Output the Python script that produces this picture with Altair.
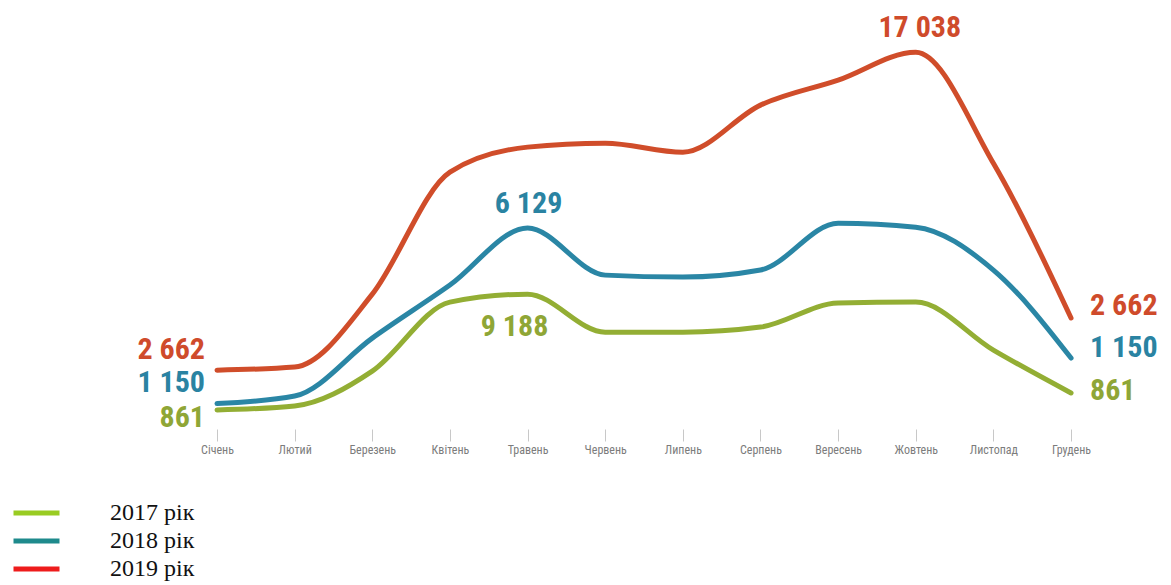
import altair as alt
import pandas as pd

months = ["Січень", "Лютий", "Березень", "Квітень", "Травень", "Червень",
          "Липень", "Серпень", "Вересень", "Жовтень", "Листопад", "Грудень"]
years = ["2017", "2018", "2019"]
v2017 = [861, 1040, 2620, 5740, 6100, 4380, 4380, 4610, 5700, 5740, 3570, 1630]
v2018 = [1150, 1490, 4110, 6510, 9090, 6960, 6870, 7190, 9310, 9130, 7190, 3210]
v2019 = [2662, 2800, 6100, 11620, 12750, 12930, 12520, 14650, 15780, 17038, 12020, 5020]

legend_labels = ["2017 рік", "2018 рік", "2019 рік"]

# annotation labels: (series, month index, text)
label_series = ["2019", "2018", "2017", "2019", "2018", "2017", "2018", "2017", "2019"]
label_month = [0, 0, 0, 11, 11, 11, 4, 4, 9]
label_text = ["2 662", "1 150", "861", "2 662", "1 150", "861", "6 129", "9 188", "17 038"]

line_colors = ["#93AE34", "#2A86A5", "#D04D2A"]
label_colors = {"2017": "#8FA636", "2018": "#2A83A2", "2019": "#CF4B2B"}
legend_colors = ["#99CC22", "#1E8A8C", "#EE1C1C"]

# styles for labels (dx, dy, align)
label_style = [(-12, -20, "right"), (-12, -21, "right"), (-12, 8, "right"),
               (19, -12, "left"), (19, -10, "left"), (19, -2, "left"),
               (1, -24, "center"), (-13, 33, "center"), (4, -24, "center")]

series = {"2017": v2017, "2018": v2018, "2019": v2019}
rows = []
for y in years:
    for i, m in enumerate(months):
        rows.append({"year": y, "idx": i, "month": m, "value": series[y][i]})
df = pd.DataFrame(rows)

cond_font = "Roboto Condensed, Liberation Sans Narrow, Open Sans Condensed, DejaVu Sans Condensed, Roboto, sans-serif"

x_enc = alt.X("idx:Q",
              scale=alt.Scale(domain=[-2.692, 12.12], nice=False, zero=False),
              axis=alt.Axis(values=list(range(12)), title=None, grid=False, domain=False,
                            tickSize=12, tickColor="#c8c8c8", tickWidth=1,
                            labelExpr="[" + ",".join("'" + m + "'" for m in months) + "][datum.value]",
                            labelFont=cond_font,
                            labelFontSize=12, labelFontWeight="normal", labelColor="#7c7c7c",
                            labelPadding=3))
y_enc = alt.Y("value:Q", scale=alt.Scale(domain=[0, 18500], nice=False), axis=None)

lines = alt.Chart(df).mark_line(strokeWidth=5, interpolate="monotone", strokeCap="round",
                                strokeJoin="round").encode(
    x=x_enc, y=y_enc,
    color=alt.Color("year:N", scale=alt.Scale(domain=years, range=line_colors), legend=None),
    detail="year:N",
)

label_layers = []
for k in range(len(label_text)):
    s = label_series[k]
    i = label_month[k]
    d = pd.DataFrame([{"idx": i, "value": series[s][i], "text": label_text[k]}])
    dx, dy, al = label_style[k]
    label_layers.append(
        alt.Chart(d).mark_text(dx=dx, dy=dy, align=al, baseline="middle", font=cond_font,
                               fontSize=30, fontWeight="bold", color=label_colors[s]).encode(
            x="idx:Q", y="value:Q", text="text:N")
    )

leg_df = pd.DataFrame({"legend": legend_labels, "idx": [0, 0, 0], "value": [0, 0, 0]})
legend_layer = alt.Chart(leg_df).mark_point(opacity=0, filled=False, size=1).encode(
    x="idx:Q", y="value:Q",
    color=alt.Color("legend:N", scale=alt.Scale(domain=legend_labels, range=legend_colors),
                    legend=alt.Legend(title=None, orient="none", legendX=14.5, legendY=479,
                                      padding=0, symbolType="M-2,0H2", symbolStrokeWidth=5,
                                      symbolSize=529, symbolOpacity=1, labelOffset=59.5,
                                      symbolFillColor="transparent",
                                      labelFont="Liberation Serif", labelFontSize=24,
                                      labelColor="#111111", rowPadding=2, symbolOffset=0)),
)

chart = alt.layer(lines, *label_layers, legend_layer).resolve_scale(color="independent").properties(
    width=1150, height=409,
    autosize=alt.AutoSizeParams(type="none"),
    padding={"left": 0, "top": 12, "right": 0, "bottom": 154},
).configure_view(stroke=None)

chart.save("out.html", embed_options={"renderer": "svg", "actions": False})
